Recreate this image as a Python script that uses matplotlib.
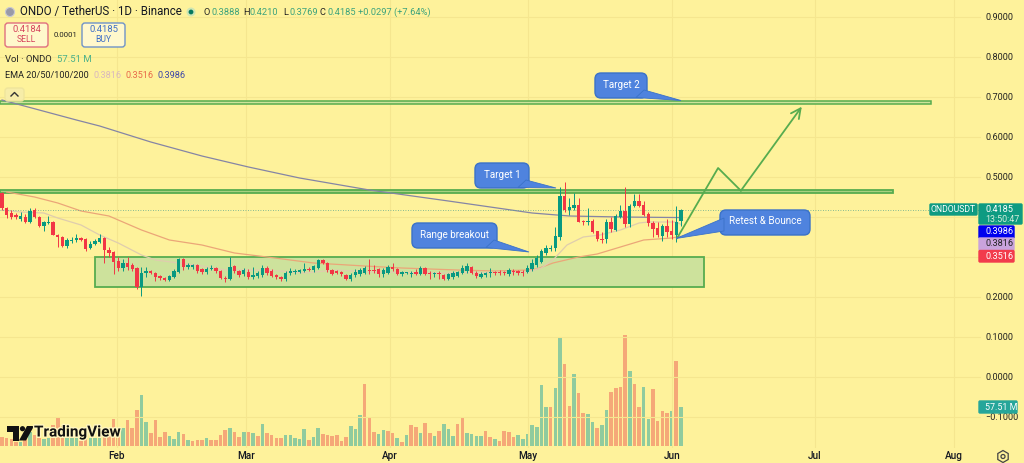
import matplotlib
matplotlib.use("Agg")
import matplotlib.pyplot as plt
from matplotlib.patches import FancyBboxPatch, Polygon, Rectangle, Circle, RegularPolygon
from matplotlib.transforms import Affine2D
from matplotlib.lines import Line2D
import matplotlib.patheffects as pe

plt.rcParams['font.family'] = ['Roboto', 'DejaVu Sans']

# ---------------- data (USDT prices, volumes in millions) ----------------
opens = [.460,.4225,.41,.405,.395,.40,.387,.4175,.40,.3775,
 .385,.388,.355,.35,.3275,.34,.3425,.3475,.345,.3225,
 .3325,.3375,.3475,.3175,.3125,.29,.2725,.285,.28,.2725,
 .225,.26,.265,.26,.252,.247,.243,.25,.263,.295,
 .275,.275,.279,.27,.263,.27,.272,.265,.248,.245,
 .277,.265,.257,.262,.25,.253,.255,.272,.265,.255,
 .25,.245,.26,.263,.263,.265,.27,.267,.272,.292,
 .285,.268,.265,.262,.255,.245,.255,.257,.26,.268,
 .268,.27,.258,.26,.275,.271,.258,.26,.258,.263,
 .257,.273,.26,.258,.26,.256,.245,.25,.252,.26,
 .265,.275,.26,.25,.255,.26,.262,.262,.262,.258,
 .265,.264,.263,.263,.27,.28,.2875,.31,.32,.3225,
 .35,.4525,.4175,.4225,.43,.39,.3875,.39,.365,.345,
 .345,.3875,.3675,.40,.415,.3825,.4275,.44,.43,.4075,
 .385,.3725,.3525,.3775,.365,.355,.3888]
closes = [.4225,.405,.40,.40,.403,.387,.415,.40,.3775,.3875,
 .388,.355,.35,.3275,.3425,.343,.3475,.3425,.32,.3325,
 .34,.3475,.3175,.31,.2875,.2725,.285,.275,.27,.225,
 .26,.265,.26,.25,.247,.242,.253,.265,.295,.275,
 .28,.279,.265,.263,.27,.272,.265,.248,.245,.276,
 .264,.255,.268,.25,.255,.26,.272,.26,.252,.25,
 .245,.26,.265,.265,.267,.27,.267,.277,.292,.285,
 .267,.258,.26,.257,.245,.255,.262,.268,.272,.266,
 .266,.257,.268,.274,.27,.257,.262,.262,.261,.258,
 .273,.257,.258,.26,.258,.245,.258,.26,.262,.272,
 .277,.26,.252,.257,.26,.262,.26,.26,.26,.267,
 .262,.261,.261,.273,.285,.2975,.315,.3225,.3225,.3525,
 .4525,.4175,.425,.43,.3875,.3875,.39,.3625,.345,.3425,
 .3875,.37,.4025,.415,.3825,.4275,.44,.4275,.405,.385,
 .37,.355,.3775,.3625,.355,.3875,.4185]
highs = [.4625,.425,.4175,.41,.412,.408,.4225,.422,.402,.39,
 .402,.39,.357,.352,.348,.35,.358,.35,.347,.34,
 .345,.357,.35,.325,.315,.30,.295,.30,.285,.275,
 .275,.275,.268,.262,.256,.25,.256,.27,.298,.297,
 .285,.283,.283,.273,.275,.28,.276,.268,.252,.30,
 .28,.268,.272,.27,.275,.265,.28,.278,.27,.258,
 .252,.265,.273,.27,.27,.285,.275,.28,.295,.295,
 .288,.27,.268,.265,.258,.26,.27,.272,.278,.295,
 .28,.272,.272,.28,.285,.273,.265,.263,.265,.27,
 .278,.275,.265,.263,.265,.258,.26,.265,.265,.28,
 .285,.278,.265,.262,.263,.272,.265,.267,.265,.272,
 .27,.268,.267,.28,.295,.305,.32,.33,.33,.375,
 .475,.4875,.4475,.46,.4475,.3925,.4225,.395,.365,.3625,
 .395,.40,.4075,.43,.475,.4325,.4575,.4575,.44,.4125,
 .39,.3875,.3825,.395,.3925,.4275,.4210]
lows = [.4175,.3975,.395,.395,.39,.385,.385,.398,.375,.365,
 .3825,.355,.325,.325,.322,.335,.338,.34,.315,.32,
 .33,.335,.285,.30,.2575,.265,.265,.268,.265,.22,
 .2025,.25,.257,.24,.243,.24,.24,.247,.26,.268,
 .27,.27,.26,.258,.258,.268,.26,.245,.238,.243,
 .26,.25,.252,.245,.245,.248,.25,.255,.25,.245,
 .24,.24,.255,.258,.26,.262,.265,.262,.27,.282,
 .262,.255,.257,.252,.243,.24,.25,.253,.258,.257,
 .26,.25,.25,.258,.265,.255,.253,.257,.25,.255,
 .255,.255,.245,.25,.245,.243,.243,.245,.25,.257,
 .26,.258,.247,.248,.25,.25,.255,.255,.255,.253,
 .255,.255,.253,.26,.265,.275,.285,.305,.315,.315,
 .3425,.4125,.405,.4175,.3875,.38,.38,.36,.34,.335,
 .335,.3625,.365,.3975,.375,.375,.425,.425,.4025,.3775,
 .35,.35,.34,.35,.345,.3375,.3769]
volumes = [13,12,10,5.5,6.3,10,20,16,12,11,
 12,31,41,30,12,12,12,7,12,12,
 12,12,15,19,40,19,27,38,27,53,
 75,35,19,38,13,21,15,11,21,18,
 9,7,9,9,12,9,9,16,24,27,
 21,13,21,21,19,15,32,19,16,12,
 12,16,16,12,10,25,9,13,27,18,
 16,15,16,7,13,30,25,46,91,41,
 21,18,24,22,19,12,6,16,31,28,
 19,34,19,15,22,32,25,15,32,41,
 19,18,15,15,22,13,10,7,22,21,
 13,16,10,18,31,28,90,58,58,86,
 161,121,59,106,78,49,47,35,27,31,
 53,80,86,87,164,111,91,58,87,40,
 84,37,52,49,52,125,57.51]
vol_dir = ("rrrrgrgrrggrrrgggrrgggrrrrgrrrggrrrrgggrgrrrgrrrrgrrgrgrgrrrrggggg"
           "rggrrrrrrgggrrrggrrgrgrrgrrgrgggrrggggrrgrrrrgggggggrggrrgrrggrgg"
           "rrrrgrrgg")
ema200_idx = [0,16,21,32,43,53,64,79,96,114,122,133,146]
ema200 = [.6925,.6425,.6275,.5875,.5525,.525,.4975,.4675,.44,.41,.4025,.40,.3986]
ema50_idx = [1,7,12,17,23,30,36,43,50,57,67,78,86,98,106,113,115,118.5,124,128,133,138,144,146]
ema50 = [.4625,.45,.435,.415,.4025,.3675,.3425,.33,.31,.30,.285,.2775,.2725,.2675,.265,.2675,.27,.285,.30,.3075,.325,.3425,.3475,.3516]
ema20_idx = [0,4,9,12,17,21,25,30,33,38,43,48,57,65,72,79,94,113,116,118.5,121.5,125,128.6,133,137,139,145,146]
ema20 = [.4175,.4125,.41,.3975,.38,.355,.335,.305,.2925,.285,.2775,.2675,.2675,.26,.2675,.2625,.26,.2625,.2725,.2925,.33,.35,.355,.3675,.385,.3875,.3875,.3816]
month_ticks = [24.7,52.5,83.4,113.1,144.1,174.8,204.7]
month_labels = ['Feb','Mar','Apr','May','Jun','Jul','Aug']
price_ticks = [-.1,0,.1,.2,.3,.4,.5,.6,.7,.8,.9]
price_labels = ['\u22120.1000','0.0000','0.1000','0.2000','','','0.5000','0.6000','0.7000','0.8000','0.9000']
path_idx = [145.2,154,158.9]
path_price = [.3475,.5225,.4658]
arrow_tip = (172,.6758)
last_price = .4185

BG = '#FEF29B'; UP = '#089981'; DOWN = '#F23645'
VUP = '#90CB9E'; VDN = '#F5A878'; GREEN = '#57AC4F'

fig = plt.figure(figsize=(10.24,4.63), dpi=100, facecolor=BG)
ax_vol = fig.add_axes([0,15/463,981/1024,448/463])
ax = fig.add_axes(ax_vol.get_position())
ax_vol.set_facecolor(BG)
ax.patch.set_visible(False)
ax.set_xlim(-0.43,210.54); ax_vol.set_xlim(-0.43,210.54)
ax.set_ylim(-.1775,.9425)
ax_vol.set_ylim(-2.95,657.85)
ax_vol.set_yticks([]); ax_vol.set_xticks([])
for a in (ax,ax_vol):
    for s in a.spines.values(): s.set_visible(False)

idx = list(range(len(opens)))
ax_vol.bar(idx, volumes, width=.76, color=[VUP if d=='g' else VDN for d in vol_dir], linewidth=0)

ax.yaxis.tick_right()
ax.set_yticks(price_ticks)
ax.set_yticklabels(price_labels, fontsize=6.6, color='#222222')
ax.set_xticks(month_ticks); ax.set_xticklabels(month_labels, fontsize=7.2, fontweight='medium', color='#131722')
ax.tick_params(axis='both', length=0)
ax.tick_params(axis='y', pad=3)
ax.tick_params(axis='x', pad=2)
ax.grid(True, color='#F5E68F', linewidth=.8, zorder=0)
ax.set_axisbelow(True)

# trend-drawing zones
xl = ax.get_xlim()[0]
ax.add_patch(Rectangle((19.9,.225),131.1,.075,fc='#CDE29C',ec=GREEN,lw=1.3,zorder=1))
ax.add_patch(Rectangle((xl,.6825),199.8-xl,.0075,fc='#CFE39A',ec=GREEN,lw=1.1,zorder=1))
ax.add_patch(Rectangle((xl,.46),191.6-xl,.0075,fc='#A8D080',ec=GREEN,lw=1.3,zorder=1))

# EMAs
ax.plot(ema200_idx,ema200,color='#8585A5',lw=.9,zorder=2)
ax.plot(ema50_idx,ema50,color='#EBA678',lw=.9,zorder=2)
ax.plot(ema20_idx,ema20,color='#DFCDAE',lw=.9,zorder=2)
ax.axhline(last_price,color='#5FA88F',lw=.6,ls=(0,(1,2)),zorder=2)

# candles
for i,(o,h,l,c) in enumerate(zip(opens,highs,lows,closes)):
    col = UP if c>=o else DOWN
    ax.vlines(i,l,h,color=col,lw=.7,zorder=3)
    ax.bar(i,abs(c-o) if abs(c-o)>.0025 else .0025,bottom=min(o,c),width=.72,color=col,linewidth=0,zorder=3)

# projected path
ax.plot(path_idx,path_price,color=GREEN,lw=1.3,zorder=4)
ax.annotate('',xy=arrow_tip,xytext=(path_idx[-1],path_price[-1]),zorder=4,
            arrowprops=dict(arrowstyle='->,head_length=.7,head_width=.35',color=GREEN,lw=1.3,shrinkA=0,shrinkB=0))

# pixel overlay helpers
PX = Affine2D().scale(1,-1).translate(0,463)
def T(x,y,s,**kw):
    kw.setdefault('va','center'); kw.setdefault('ha','left'); kw.setdefault('fontsize',6.6); kw.setdefault('color','#222222'); kw.setdefault('zorder',9)
    return fig.text(x/1024,1-y/463,s,**kw)
def box(x0,y0,x1,y1,fc,ec=None,r=2,lw=1,z=6):
    p = FancyBboxPatch((x0,y0),x1-x0,y1-y0,boxstyle=f'round,pad=0,rounding_size={r}',fc=fc,ec=ec or fc,lw=lw,transform=PX,zorder=z,clip_on=False)
    fig.add_artist(p); return p
def poly(pts,fc,ec=None,lw=0,z=6):
    p = Polygon(pts,closed=True,fc=fc,ec=ec or fc,lw=lw,transform=PX,zorder=z,clip_on=False)
    fig.add_artist(p); return p

# callouts
BL='#4F83DE'; BE='#3A72C8'
def callout(x0,y0,x1,y1,tail,s):
    box(x0,y0,x1,y1,BL,BE,r=6)
    poly(tail,BL,BE,.6)
    T((x0+x1)/2,(y0+y1)/2-1,s,ha='center',color='white',fontsize=7.1)
callout(595,73,647,98,[(644,90),(681,100.5),(636,97.5)],'Target 2')
callout(475,163,529,188,[(526,180),(556,188),(518,187.5)],'Target 1')
callout(412,223,497,248,[(494,240),(529,252),(486,247.5)],'Range breakout')
callout(720,210,810,235,[(724,218),(676,238.5),(724,231)],'Retest & Bounce')

# header
fig.add_artist(Circle((10,12),4.5,fc='#9A9AA8',ec='#C9C9D2',lw=.8,transform=PX))
T(20,12,'ONDO / TetherUS · 1D · Binance',fontsize=8.3,color='#131722')
fig.add_artist(Circle((191,12),4.5,fc='#CFE6B4',ec='none',transform=PX))
fig.add_artist(Circle((191,12),2.4,fc='#06785F',ec='none',transform=PX))
V='#3DA37C'
for xx,lab,val in [(204,'O','0.3888'),(243,'H','0.4210'),(283,'L','0.3769'),(320,'C','0.4185')]:
    T(xx,12.5,lab,fontsize=6.7); T(xx+7,12.5,val,fontsize=6.7,color=V)
T(358,12.5,'+0.0297 (+7.64%)',fontsize=6.7,color=V)
box(5,23,48,47,'#FFF8CC','#E0707F',r=3)
T(26.5,30,'0.4184',ha='center',color='#D6455D',fontsize=6.8)
T(26.5,40,'SELL',ha='center',color='#D6455D',fontsize=6.2)
T(54,35,'0.0001',fontsize=5.6)
box(82,23,125,47,'#FFF8CC','#6F93C8',r=3)
T(103.5,30,'0.4185',ha='center',color='#3F6FC6',fontsize=6.8)
T(103.5,40,'BUY',ha='center',color='#3F6FC6',fontsize=6.2)
T(5,59,'Vol · ONDO',fontsize=6.8); T(57,59,'57.51 M',color='#49B08A',fontsize=6.8)
T(5,76,'EMA 20/50/100/200',fontsize=6.6)
T(93,76,'0.3816',color='#D9B8BE',fontsize=6.6); T(126,76,'0.3516',color='#E8694A',fontsize=6.6); T(158,76,'0.3986',color='#3E48A8',fontsize=6.6)
box(5,88,24,101,'#F7EDA8','#EFE59C',r=3)
fig.add_artist(Line2D([11,14.5,18],[96,92.5,96],color='#333333',lw=1,transform=PX,zorder=7))

# right tags
box(930,204,977,215,'#0E9B82',r=1)
T(953.5,209.7,'ONDOUSDT',ha='center',color='white',fontsize=6.2)
box(979,204,1022,224,'#0E9B82',r=1)
T(985,209.5,'0.4185',color='white',fontsize=6.6)
T(985,219,'13:50:47',color='#D5EEDC',fontsize=6.4)
box(979,226,1014,238,'#0000EE',r=1)
T(985,232,'0.3986',color='white',fontsize=6.6)
box(979,238,1014,250,'#C9A3DC',r=1)
T(985,244,'0.3816',color='#222222',fontsize=6.6)
box(979,250.5,1014,262,'#F23B4C',r=1)
T(985,256.5,'0.3516',color='white',fontsize=6.6)
box(979,401,1017,413,'#26A69A',r=1)
T(985,407,'57.51 M',color='white',fontsize=6.4)

# settings glyph
fig.add_artist(RegularPolygon((1003,456.5),numVertices=6,radius=6,fc='none',ec='#444444',lw=.9,transform=PX,zorder=9))
fig.add_artist(Circle((1003,456.5),2,fc='none',ec='#444444',lw=.9,transform=PX,zorder=9))

# TradingView mark
poly([(7,426),(19,426),(19,440.5),(13,440.5),(13,431.5),(7,431.5)],'#111111',z=8)
fig.add_artist(Circle((22.5,428.7),2.6,fc='#111111',ec='none',transform=PX,zorder=8))
poly([(27,426),(34,426),(26,440.5),(19,440.5)],'#111111',z=8)
T(34,432.5,'TradingView',fontsize=11,fontweight='bold',color='#111111',
  path_effects=[pe.withStroke(linewidth=2,foreground='#FFF6C0')])

fig.savefig('out.png',dpi=100,facecolor=BG)
